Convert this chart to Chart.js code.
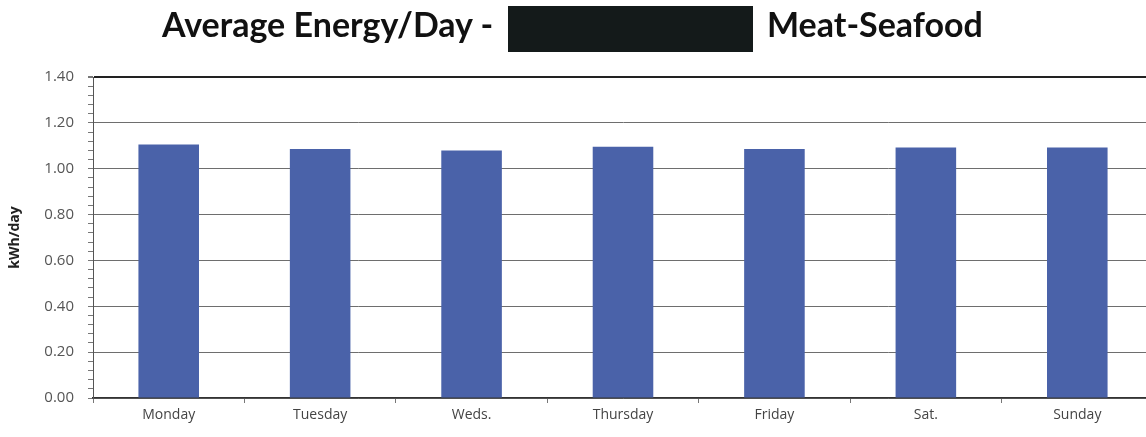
<!DOCTYPE html>
<html>
<head>
<meta charset="utf-8">
<script src="https://cdn.jsdelivr.net/npm/chart.js@4"></script>
<style>
    html, body { margin: 0; padding: 0; background: #fff; overflow: hidden; }
    body { width: 1146px; height: 437px; position: relative; }
    #wrap { position: absolute; left: 0; top: 0; width: 1153px; height: 437px; }
    .titulo { position: absolute; top: 6px; font-family: 'Lato', 'Open Sans', sans-serif; font-weight: bold; font-size: 34px; color: #111; white-space: nowrap; line-height: 36px; }
    .tachado { position: absolute; left: 508px; top: 6px; width: 245px; height: 46px; background: #141a1a; }
</style>
</head>
<body>
<div id="wrap"><canvas id="grafico"></canvas></div>
<div class="titulo" style="left:162px">Average Energy/Day -</div>
<div class="tachado"></div>
<div class="titulo" style="left:767px">Meat-Seafood</div>

<script>
// Datos
const dias = ['Monday', 'Tuesday', 'Weds.', 'Thursday', 'Friday', 'Sat.', 'Sunday'];
const energia = [1.106, 1.086, 1.079, 1.096, 1.086, 1.092, 1.093];
const ejeMin = 0;
const ejeMax = 1.4;
const pasoMayor = 0.2;
const pasoMenor = 0.04;

const fuente = "'Open Sans', 'DejaVu Sans', sans-serif";

function esMayor(v) {
    const r = v / pasoMayor;
    return Math.abs(r - Math.round(r)) < 1e-6;
}

const ctx = document.getElementById('grafico').getContext('2d');
new Chart(ctx, {
    type: 'bar',
    data: {
        labels: dias,
        datasets: [{
            label: 'kWh/day',
            data: energia,
            backgroundColor: '#4a62a9',
            borderWidth: 0,
            barPercentage: 0.4,
            categoryPercentage: 1.0
        }]
    },
    options: {
        responsive: true,
        maintainAspectRatio: false,
        animation: false,
        layout: { padding: { top: 77, left: 0, right: 0, bottom: 0 } },
        plugins: {
            legend: { display: false },
            tooltip: { enabled: false }
        },
        scales: {
            x: {
                afterFit: (scale) => { scale.height = 39; },
                grid: {
                    offset: true,
                    drawOnChartArea: false,
                    drawTicks: true,
                    tickLength: 5,
                    tickColor: '#777'
                },
                border: { color: '#333', width: 1.5 },
                ticks: {
                    padding: 4,
                    color: '#444',
                    font: { family: fuente, size: 14 }
                }
            },
            y: {
                min: ejeMin,
                max: ejeMax,
                afterFit: (scale) => { scale.width = 93; },
                grid: {
                    color: (c) => {
                        const v = c.tick ? c.tick.value : 0;
                        if (Math.abs(v - ejeMax) < 1e-6) return '#222';
                        return esMayor(v) ? '#6e6e6e' : 'rgba(0,0,0,0)';
                    },
                    lineWidth: (c) => {
                        const v = c.tick ? c.tick.value : 0;
                        return Math.abs(v - ejeMax) < 1e-6 ? 2 : 1;
                    },
                    tickColor: '#777',
                    tickLength: 5
                },
                border: { color: '#555', width: 1 },
                ticks: {
                    stepSize: pasoMenor,
                    autoSkip: false,
                    padding: 14,
                    color: '#555',
                    font: { family: fuente, size: 15 },
                    callback: (v) => esMayor(v) ? Number(v).toFixed(2) : ''
                },
                title: {
                    display: true,
                    text: 'kWh/day',
                    color: '#222',
                    padding: { top: 7, bottom: 0 },
                    font: { family: fuente, size: 14, weight: 'bold' }
                }
            }
        }
    }
});
</script>
</body>
</html>
